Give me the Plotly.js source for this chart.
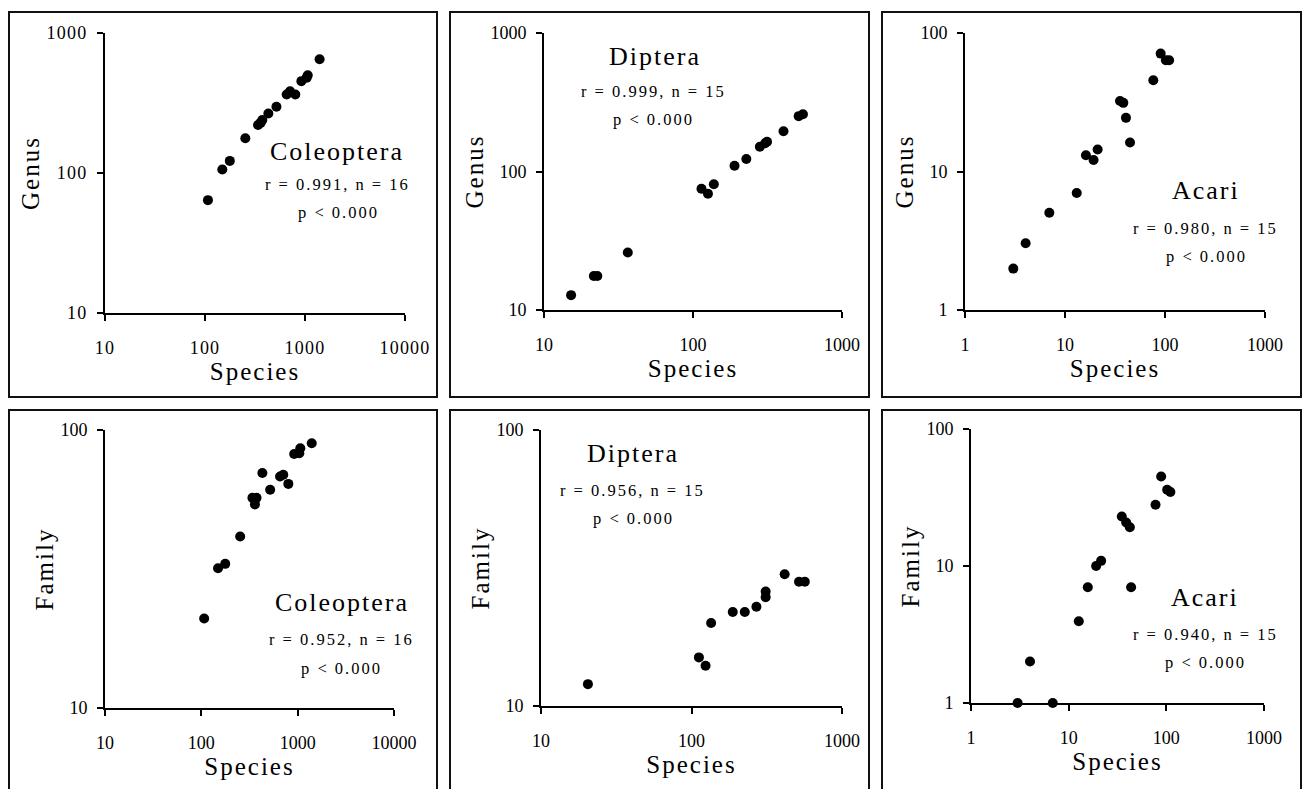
<!DOCTYPE html>
<html>
<head>
<meta charset="utf-8">
<script src="https://cdn.plot.ly/plotly-3.0.1.min.js"></script>
<style>
  html, body { margin: 0; padding: 0; background: #fff; }
  #chart { width: 1303px; height: 789px; }
  g[class^="xtick"] text, g[class^="ytick"] text, .xtick text, .ytick text { letter-spacing: 1.2px; }
  text[class$="title"] { letter-spacing: 2px; }
  .annotation-text { letter-spacing: 2px; }
</style>
</head>
<body>
<div id="chart"></div>
<script>
// ---- Data ----
// Coleoptera (n = 16)
const coleopteraSpecies = [107, 149, 177, 253, 339, 360, 374, 430, 518, 656, 709, 800, 920, 1040, 1065, 1400];
const coleopteraGenus   = [64, 106, 122, 177, 220, 228, 239, 266, 297, 364, 384, 364, 453, 480, 499, 649];
const coleopteraFamily  = [21, 31.8, 33, 41.4, 57, 54, 57, 70, 61, 68, 69, 64, 82, 82.5, 86, 89.6];

// Diptera (n = 15)
const dipteraSpecies = [15.2, 21.6, 22.8, 36.5, 114, 126, 138, 190, 228, 281, 305, 314, 405, 512, 547];
const dipteraGenus   = [12.8, 17.6, 17.6, 26, 75, 69, 81, 110, 123, 151, 160, 164, 195, 251, 259];
const dipteraFamilySpecies = [20.5, 112, 124, 135, 188, 226, 270, 311, 311, 416, 518, 566];
const dipteraFamily        = [12, 15, 14, 20, 21.9, 21.9, 22.9, 24.8, 26, 30, 28.2, 28.2];

// Acari (n = 15)
const acariSpecies = [3.04, 4.04, 6.97, 13.1, 16.2, 19.3, 21.2, 35.5, 38.3, 40.7, 44.7, 76.4, 90.5, 102, 110];
const acariGenus   = [1.99, 3.03, 5.03, 7.0, 13.1, 12.1, 14.4, 32.3, 31.3, 24.4, 16.2, 45.6, 71, 63.5, 63.5];
const acariFamilySpecies = [3.0, 6.87, 4.02, 12.7, 15.7, 19.1, 21.5, 35, 38.8, 42.3, 43.6, 77.5, 88.5, 102, 110];
const acariFamily        = [1, 1, 2.01, 3.95, 6.99, 10, 10.9, 23, 20.8, 19.2, 7, 28, 45, 36, 34.7];

// Panel texts
const taxa = ["Coleoptera", "Diptera", "Acari", "Coleoptera", "Diptera", "Acari"];
const stats = ["r = 0.991, n = 16", "r = 0.999, n = 15", "r = 0.980, n = 15",
               "r = 0.952, n = 16", "r = 0.956, n = 15", "r = 0.940, n = 15"];
const pText = "p < 0.000";
const yTitles = ["Genus", "Genus", "Genus", "Family", "Family", "Family"];
const xTitle = "Species";

// Axis tick labels
const ticks1to1000 = [1, 10, 100, 1000];
const ticks10to1000 = [10, 100, 1000];
const ticks10to10000 = [10, 100, 1000, 10000];
const ticks1to100 = [1, 10, 100];
const ticks10to100 = [10, 100];
const ticks10to1000y = [10, 100, 1000];

// ---- Layout geometry (pixels) ----
const W = 1303, H = 789;
const FONT = "Liberation Serif, Times New Roman, serif";
const px = v => v / W;
const py = v => 1 - v / H;

const panels = [
  {x: [105, 405], y: [33, 313], xt: ticks10to10000, yt: ticks10to1000y, xs: coleopteraSpecies, ys: coleopteraGenus},
  {x: [544, 842], y: [33, 310], xt: ticks10to1000, yt: ticks10to1000y, xs: dipteraSpecies, ys: dipteraGenus},
  {x: [965, 1265], y: [33, 310], xt: ticks1to1000, yt: ticks1to100, xs: acariSpecies, ys: acariGenus},
  {x: [105, 394], y: [430, 708], xt: ticks10to10000, yt: ticks10to100, xs: coleopteraSpecies, ys: coleopteraFamily},
  {x: [541, 842], y: [430, 706], xt: ticks10to1000, yt: ticks10to100, xs: dipteraFamilySpecies, ys: dipteraFamily},
  {x: [971, 1264], y: [429, 703], xt: ticks1to1000, yt: ticks1to100, xs: acariFamilySpecies, ys: acariFamily}
];

// annotation pixel centres: [taxon, stats, p]
const annPos = [
  [[337, 152], [337, 185], [338, 213]],
  [[655, 57], [654, 92], [654, 120]],
  [[1206, 190], [1205, 228], [1206, 256]],
  [[342, 602], [342, 639], [342, 668]],
  [[633, 454], [632, 491], [633, 518]],
  [[1205, 597], [1205, 634], [1205, 662]]
];

const borders = [
  [9, 12, 437, 397], [450, 12, 869, 397], [882, 12, 1301, 397],
  [9, 410, 437, 800], [450, 410, 869, 800], [882, 410, 1301, 800]
];

const data = [];
const layout = {
  width: W, height: H,
  margin: {l: 0, r: 0, t: 0, b: 0},
  paper_bgcolor: "#ffffff",
  plot_bgcolor: "rgba(0,0,0,0)",
  showlegend: false,
  font: {family: FONT, color: "#000"},
  annotations: [],
  shapes: []
};

panels.forEach((p, i) => {
  const k = i === 0 ? "" : String(i + 1);
  data.push({
    type: "scatter", mode: "markers",
    x: p.xs, y: p.ys,
    xaxis: "x" + k, yaxis: "y" + k,
    cliponaxis: false,
    marker: {color: "#000", size: 10, line: {width: 0}},
    hoverinfo: "x+y"
  });
  const common = {
    type: "log",
    showgrid: false, zeroline: false,
    showline: true, linecolor: "#000", linewidth: 2,
    ticks: "outside", ticklen: 6, tickwidth: 1.5, tickcolor: "#000",
    tickmode: "array",
    tickfont: {family: FONT, size: 18, color: "#000"},
    mirror: false
  };
  layout["xaxis" + k] = Object.assign({}, common, {
    domain: [px(p.x[0]), px(p.x[1])],
    anchor: "y" + k,
    range: [Math.log10(p.xt[0]), Math.log10(p.xt[p.xt.length - 1])],
    tickvals: p.xt, ticktext: p.xt.map(String),
    ticklabelstandoff: 11,
    title: {text: xTitle, font: {family: FONT, size: 25, color: "#000"}, standoff: 1}
  });
  layout["yaxis" + k] = Object.assign({}, common, {
    domain: [py(p.y[1]), py(p.y[0])],
    anchor: "x" + k,
    range: [Math.log10(p.yt[0]), Math.log10(p.yt[p.yt.length - 1])],
    tickvals: p.yt, ticktext: p.yt.map(String),
    ticklabelstandoff: 6,
    title: {text: yTitles[i], font: {family: FONT, size: 25, color: "#000"}, standoff: 0}
  });
  const a = annPos[i];
  layout.annotations.push(
    {xref: "paper", yref: "paper", x: px(a[0][0]), y: py(a[0][1]), text: taxa[i],
     showarrow: false, xanchor: "center", yanchor: "middle",
     font: {family: FONT, size: 26, color: "#000"}},
    {xref: "paper", yref: "paper", x: px(a[1][0]), y: py(a[1][1]), text: stats[i],
     showarrow: false, xanchor: "center", yanchor: "middle",
     font: {family: FONT, size: 16.5, color: "#000"}},
    {xref: "paper", yref: "paper", x: px(a[2][0]), y: py(a[2][1]), text: pText,
     showarrow: false, xanchor: "center", yanchor: "middle",
     font: {family: FONT, size: 16.5, color: "#000"}}
  );
  const b = borders[i];
  layout.shapes.push({
    type: "rect", xref: "paper", yref: "paper",
    x0: px(b[0]), x1: px(b[2]), y0: py(b[3]), y1: py(b[1]),
    line: {color: "#111", width: 2}, fillcolor: "rgba(0,0,0,0)", layer: "below"
  });
});

Plotly.newPlot("chart", data, layout, {displayModeBar: false});
</script>
</body>
</html>
